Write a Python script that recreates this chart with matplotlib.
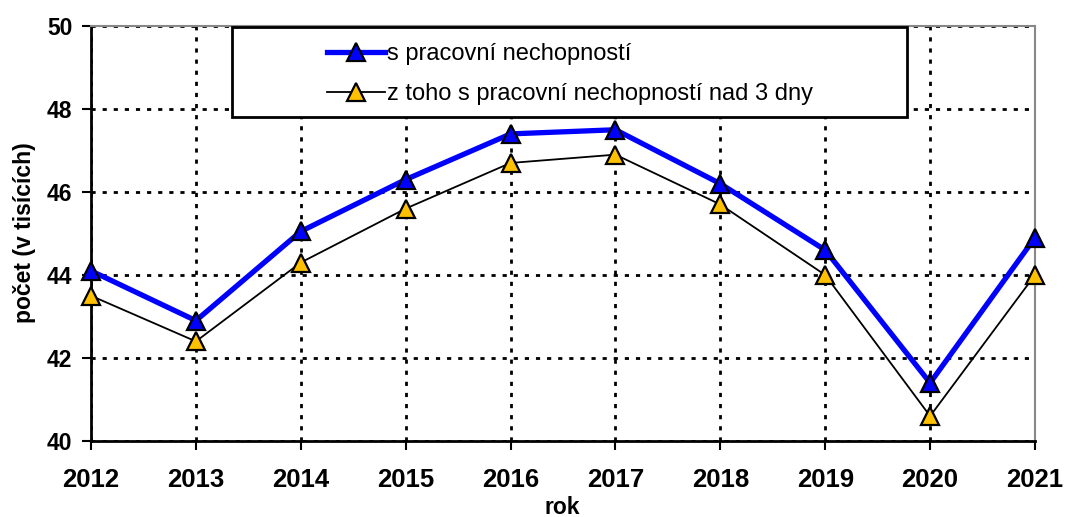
import matplotlib
matplotlib.use("Agg")
import matplotlib.pyplot as plt
from matplotlib.patches import Rectangle

plt.rcParams['font.family'] = ['Liberation Sans', 'DejaVu Sans']

years = [2012, 2013, 2014, 2015, 2016, 2017, 2018, 2019, 2020, 2021]
s_nechopnosti = [44.1, 42.9, 45.05, 46.3, 47.4, 47.5, 46.2, 44.6, 41.4, 44.9]
nad_3_dny = [43.5, 42.4, 44.3, 45.6, 46.7, 46.9, 45.7, 44.0, 40.6, 44.0]
yticks = [40, 42, 44, 46, 48, 50]
label1 = "s pracovní nechopností"
label2 = "z toho s pracovní nechopností nad 3 dny"

W, H = 1065, 517
fig = plt.figure(figsize=(W/100, H/100), dpi=100)
ax = fig.add_axes([91/W, 1-441/H, 944/W, 415/H])

ax.set_xlim(years[0], years[-1])
ax.set_ylim(yticks[0], yticks[-1])
ax.set_xticks(years)
ax.set_yticks(yticks)
ax.set_xticklabels([str(y) for y in years], fontsize=18.5, fontweight='bold')
ax.set_yticklabels([str(v) for v in yticks], fontsize=16.5, fontweight='bold')

ax.grid(True, color='black', linestyle=(0, (1.5, 2.5)), linewidth=2)
ax.set_axisbelow(True)

for s in ['top', 'right']:
    ax.spines[s].set_color('#888888')
    ax.spines[s].set_linewidth(1.5)
for s in ['left', 'bottom']:
    ax.spines[s].set_color('black')
    ax.spines[s].set_linewidth(2)

ax.tick_params(direction='out', length=6.5, width=1.5)
ax.tick_params(axis='y', pad=7)
ax.tick_params(axis='x', pad=13)

l1, = ax.plot(years, s_nechopnosti, color='#0000FF', linewidth=3.8, marker='^',
              markersize=12.5, markerfacecolor='#0000FF', markeredgecolor='black',
              markeredgewidth=1.6, label=label1, zorder=4, clip_on=False)
l2, = ax.plot(years, nad_3_dny, color='black', linewidth=1.3, marker='^',
              markersize=12.5, markerfacecolor='#FFC000', markeredgecolor='black',
              markeredgewidth=1.6, label=label2, zorder=3, clip_on=False)

fig.text(562/W, 1-507/H, "rok", fontsize=16.5, fontweight='bold', ha='center', va='center')
fig.text(25/W, 1-233/H, "počet (v tisících)", fontsize=16.5, fontweight='bold',
         ha='center', va='center', rotation=90)

# legend box
rect = Rectangle(((232-91)/944, (441-117)/415), (907-232)/944, (117-27)/415,
                 transform=ax.transAxes, facecolor='white', edgecolor='black',
                 linewidth=2, zorder=5, clip_on=False)
ax.add_patch(rect)
leg = ax.legend(handles=[l1, l2], loc='center left',
                bbox_to_anchor=((327-91)/944, (441-74)/415),
                frameon=False, fontsize=17, handlelength=2.45, handletextpad=0.1,
                labelspacing=0.75, borderaxespad=0, borderpad=0)
leg.set_zorder(6)

fig.savefig("out.png", dpi=100)
